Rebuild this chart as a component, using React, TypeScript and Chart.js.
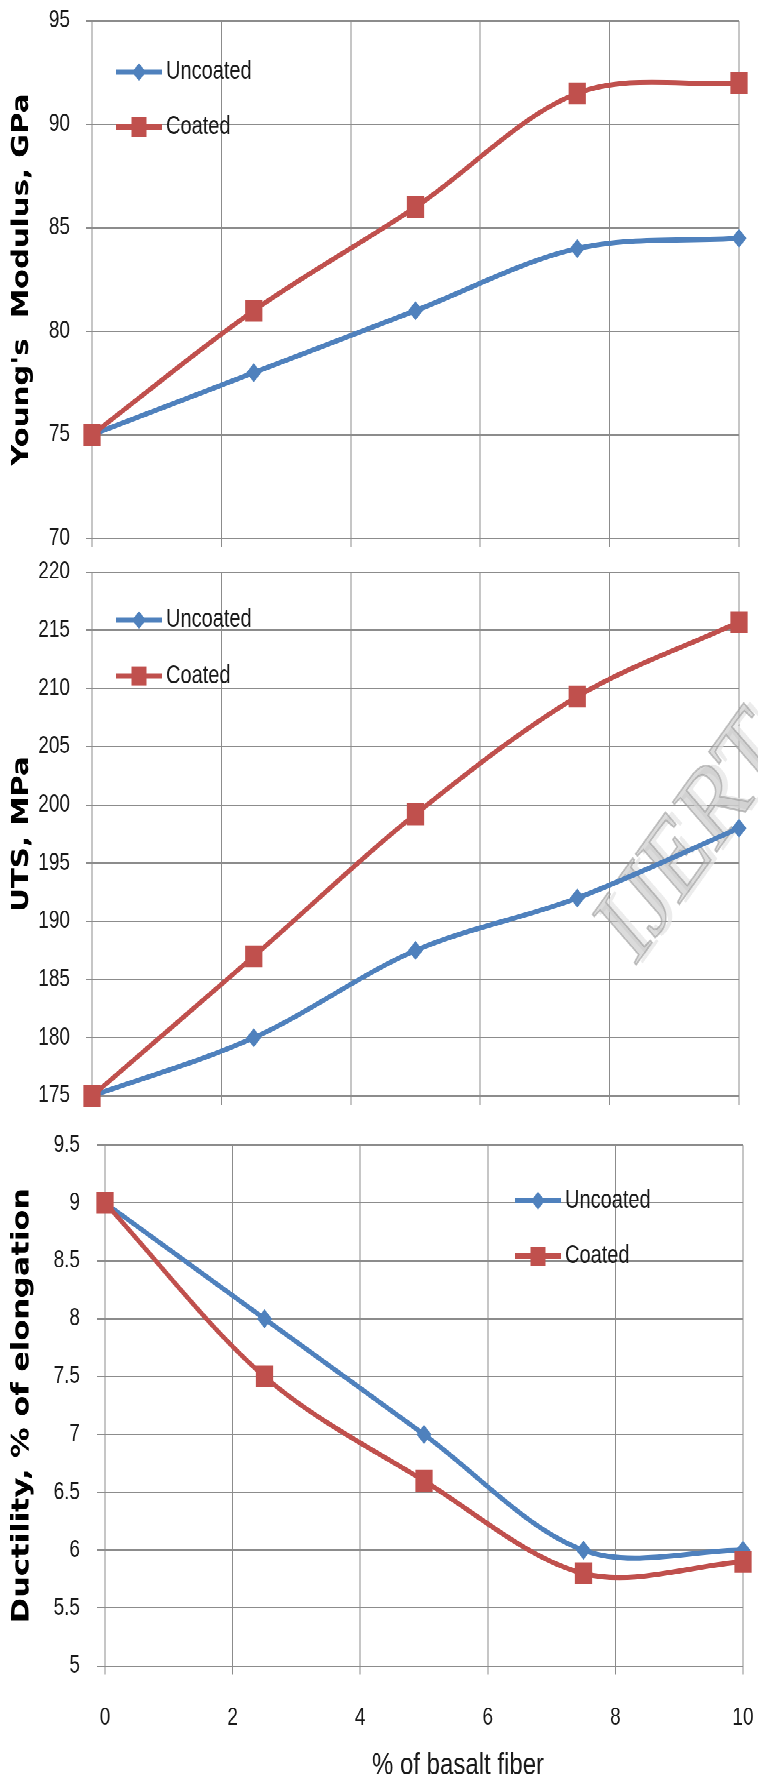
import React, { useEffect, useRef } from "react";
import { Chart, registerables } from "chart.js";

Chart.register(...registerables);

// ---------------- data ----------------
const fiberPercent = [0, 2.5, 5, 7.5, 10];
const seriesLabels = ["Uncoated", "Coated"];
const youngUncoated = [75, 78, 81, 84, 84.5];
const youngCoated = [75, 81, 86, 91.5, 92];
const utsUncoated = [175, 180, 187.5, 192, 198];
const utsCoated = [175, 187, 199.2, 209.3, 215.7];
const ductilityUncoated = [9, 8, 7, 6, 6];
const ductilityCoated = [9, 7.5, 6.6, 5.8, 5.9];
const yTitles = ["Young's  Modulus, GPa", "UTS, MPa", "Ductility, % of elongation"];
const xAxisTitle = "% of basalt fiber";
const watermarkText = "IJERT";

// ---------------- styling ----------------
const STRETCH = 1.27;
const PAGE_W = 758;
const PAGE_H = 1780 / STRETCH;

const BLUE = "#4F81BD";
const RED = "#C0504D";
const GRID = "#8c8c8c";
const TEXT = "#1a1a1a";
const SANS = "'Liberation Sans', Arial, sans-serif";
const BOLD_SANS = "'DejaVu Sans', 'Liberation Sans', sans-serif";

type Panel = {
  top: number;
  height: number;
  padTop: number;
  padRight: number;
  yWidth: number;
  xHeight: number;
  yMin: number;
  yMax: number;
  yStep: number;
  yTickLen: number;
  yPad: number;
  titleSize: number;
  uncoated: number[];
  coated: number[];
  yTitle: string;
  showX: boolean;
  legendX: number;
  legendYs: number[];
  watermark: any;
  xTitle: any;
};

const panels: Panel[] = [
  {
    top: 0, height: 436, padTop: 16.5, padRight: 19, yWidth: 92, xHeight: 7.7,
    yMin: 70, yMax: 95, yStep: 5, yTickLen: 6, yPad: 16, titleSize: 23,
    uncoated: youngUncoated, coated: youngCoated, yTitle: yTitles[0],
    showX: false, legendX: 24, legendYs: [40.2, 83.5], watermark: false, xTitle: false,
  },
  {
    top: 436, height: 444, padTop: 14.4, padRight: 19, yWidth: 92, xHeight: 17,
    yMin: 175, yMax: 220, yStep: 5, yTickLen: 6, yPad: 16, titleSize: 23,
    uncoated: utsUncoated, coated: utsCoated, yTitle: yTitles[1],
    showX: false, legendX: 24, legendYs: [37.8, 81.9],
    watermark: { text: watermarkText, x: 634, y: 326, angle: -0.834, size: 90 },
    xTitle: false,
  },
  {
    top: 880, height: 522, padTop: 21.6, padRight: 15, yWidth: 105, xHeight: 90.2,
    yMin: 5, yMax: 9.5, yStep: 0.5, yTickLen: 8, yPad: 17, titleSize: 24,
    uncoated: ductilityUncoated, coated: ductilityCoated, yTitle: yTitles[2],
    showX: true, legendX: 410, legendYs: [43.8, 87.4], watermark: false,
    xTitle: { text: xAxisTitle, dx: 34, fromBottom: 11.8, size: 24 },
  },
];

function drawMarker(ctx: CanvasRenderingContext2D, style: string, x: number, y: number, r: number) {
  ctx.beginPath();
  if (style === "rect") {
    ctx.rect(x - r, y - r, 2 * r, 2 * r);
  } else {
    ctx.moveTo(x - r, y);
    ctx.lineTo(x, y - r);
    ctx.lineTo(x + r, y);
    ctx.lineTo(x, y + r);
    ctx.closePath();
  }
  ctx.fill();
}

const insideLegend = {
  id: "insideLegend",
  afterDraw(chart: any, _args: any, opts: any) {
    if (!opts || !opts.ys) return;
    const { ctx, chartArea } = chart;
    ctx.save();
    chart.data.datasets.forEach((ds: any, i: number) => {
      const x0 = chartArea.left + opts.x;
      const y = chartArea.top + opts.ys[i];
      ctx.strokeStyle = ds.borderColor;
      ctx.lineWidth = 4;
      ctx.beginPath();
      ctx.moveTo(x0, y);
      ctx.lineTo(x0 + 46, y);
      ctx.stroke();
      ctx.fillStyle = ds.borderColor;
      drawMarker(ctx, ds.pointStyle === "rect" ? "rect" : "diamond", x0 + 23, y, ds.pointStyle === "rect" ? 7.5 : 7);
      ctx.fillStyle = TEXT;
      ctx.font = `20px ${SANS}`;
      ctx.textAlign = "left";
      ctx.textBaseline = "middle";
      ctx.fillText(ds.label, x0 + 50, y);
    });
    ctx.restore();
  },
};

const watermarkPlugin = {
  id: "watermark",
  beforeDatasetsDraw(chart: any, _args: any, opts: any) {
    if (!opts || !opts.text) return;
    const { ctx } = chart;
    ctx.save();
    ctx.translate(opts.x, opts.y);
    ctx.rotate(opts.angle);
    ctx.font = `${opts.size}px 'Liberation Serif', serif`;
    ctx.textBaseline = "alphabetic";
    ctx.fillStyle = "rgba(228,228,228,0.7)";
    ctx.fillText(opts.text, 5, 4);
    ctx.fillStyle = "rgba(190,190,190,0.55)";
    ctx.strokeStyle = "rgba(150,150,150,0.55)";
    ctx.lineWidth = 1.5;
    ctx.fillText(opts.text, 0, 0);
    ctx.strokeText(opts.text, 0, 0);
    ctx.restore();
  },
};

const xTitlePlugin = {
  id: "xTitleOffset",
  afterDraw(chart: any, _args: any, opts: any) {
    if (!opts || !opts.text) return;
    const { ctx, chartArea } = chart;
    ctx.save();
    ctx.font = `${opts.size}px ${SANS}`;
    ctx.fillStyle = TEXT;
    ctx.textAlign = "center";
    ctx.textBaseline = "middle";
    ctx.fillText(opts.text, (chartArea.left + chartArea.right) / 2 + opts.dx, chart.height - opts.fromBottom);
    ctx.restore();
  },
};

function buildConfig(p: Panel): any {
  const toPoints = (vals: number[]) => fiberPercent.map((x, i) => ({ x, y: vals[i] }));
  return {
    type: "line",
    data: {
      datasets: [
        {
          label: seriesLabels[0],
          data: toPoints(p.uncoated),
          borderColor: BLUE,
          backgroundColor: BLUE,
          pointBackgroundColor: BLUE,
          pointBorderWidth: 0,
          pointStyle: "rectRot",
          pointRadius: 7.5,
          borderWidth: 4,
          tension: 0.33,
          clip: false,
          order: 1,
        },
        {
          label: seriesLabels[1],
          data: toPoints(p.coated),
          borderColor: RED,
          backgroundColor: RED,
          pointBackgroundColor: RED,
          pointBorderWidth: 0,
          pointStyle: "rect",
          pointRadius: 12.2,
          borderWidth: 4,
          tension: 0.33,
          clip: false,
          order: 0,
        },
      ],
    },
    options: {
      responsive: false,
      animation: false,
      devicePixelRatio: 2,
      events: [],
      layout: { padding: { top: p.padTop, right: p.padRight, left: 0, bottom: 0 } },
      plugins: {
        legend: { display: false },
        tooltip: { enabled: false },
        insideLegend: { x: p.legendX, ys: p.legendYs },
        watermark: p.watermark,
        xTitleOffset: p.xTitle,
      },
      scales: {
        x: {
          type: "linear",
          min: 0,
          max: 10,
          ticks: {
            stepSize: 2,
            display: p.showX,
            color: TEXT,
            font: { family: SANS, size: 19 },
            padding: 22.6,
            maxRotation: 0,
            callback: (v: number) => String(v),
          },
          grid: { color: GRID, lineWidth: 1, tickLength: 7, drawTicks: true },
          border: { color: GRID, width: 1 },
          afterFit: (s: any) => {
            s.height = p.xHeight;
            s.paddingLeft = 0;
            s.paddingRight = 0;
          },
        },
        y: {
          type: "linear",
          min: p.yMin,
          max: p.yMax,
          ticks: {
            stepSize: p.yStep,
            color: TEXT,
            font: { family: SANS, size: 19 },
            padding: p.yPad,
            callback: (v: number) => String(v),
          },
          grid: { color: GRID, lineWidth: 1, tickLength: p.yTickLen },
          border: { color: GRID, width: 1 },
          title: {
            display: true,
            text: p.yTitle,
            color: "#000",
            font: { family: BOLD_SANS, size: p.titleSize, weight: "bold" },
            padding: { top: 8, bottom: 0 },
          },
          afterFit: (s: any) => {
            s.width = p.yWidth;
            s.paddingTop = 0;
            s.paddingBottom = 0;
          },
        },
      },
    },
    plugins: [insideLegend, watermarkPlugin, xTitlePlugin],
  };
}

function ChartPanel({ panel }: { panel: Panel }) {
  const ref = useRef<HTMLCanvasElement>(null);
  useEffect(() => {
    const canvas = ref.current;
    if (!canvas) return;
    const chart = new Chart(canvas, buildConfig(panel));
    return () => chart.destroy();
  }, [panel]);
  return (
    <canvas
      ref={ref}
      width={PAGE_W}
      height={panel.height}
      style={{ position: "absolute", left: 0, top: panel.top }}
    />
  );
}

export default function App() {
  return (
    <div
      style={{
        position: "absolute",
        left: 0,
        top: 0,
        width: PAGE_W,
        height: PAGE_H,
        transform: `scaleY(${STRETCH})`,
        transformOrigin: "0 0",
        background: "#fff",
      }}
    >
      {panels.map((p, i) => (
        <ChartPanel key={i} panel={p} />
      ))}
    </div>
  );
}
